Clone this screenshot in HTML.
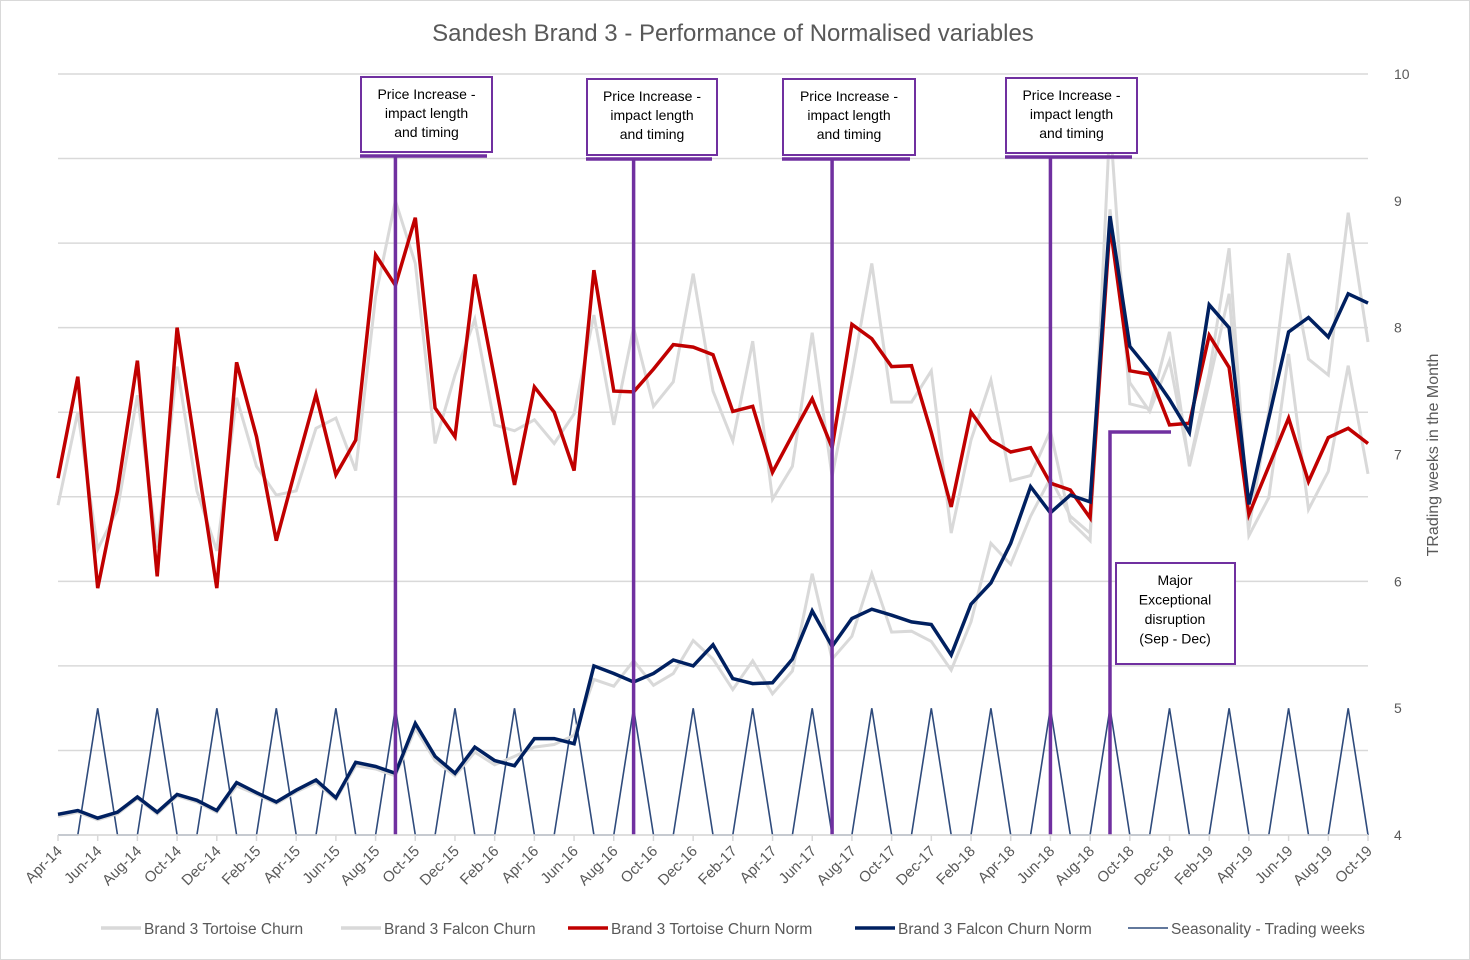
<!DOCTYPE html>
<html><head><meta charset="utf-8">
<style>
body{margin:0;background:#fff;}
svg{display:block;font-family:"Liberation Sans",sans-serif;}
</style></head>
<body>
<svg id="chart" width="1470" height="960" viewBox="0 0 1470 960">
<rect x="0.5" y="0.5" width="1469" height="959" fill="#fff" stroke="#d9d9d9"/>
<text x="733" y="41" text-anchor="middle" font-size="24" fill="#595959">Sandesh Brand 3 - Performance of Normalised variables</text>
<g id="grid"></g>
<g id="series"></g>
<g id="annot"></g>
<g id="axes"></g>
<text transform="translate(1438,455) rotate(-90)" text-anchor="middle" font-size="16" fill="#595959">TRading weeks in the Month</text>
<g id="legend"></g>
</svg>
<script>
const months=["Apr-14","May-14","Jun-14","Jul-14","Aug-14","Sep-14","Oct-14","Nov-14","Dec-14","Jan-15","Feb-15","Mar-15","Apr-15","May-15","Jun-15","Jul-15","Aug-15","Sep-15","Oct-15","Nov-15","Dec-15","Jan-16","Feb-16","Mar-16","Apr-16","May-16","Jun-16","Jul-16","Aug-16","Sep-16","Oct-16","Nov-16","Dec-16","Jan-17","Feb-17","Mar-17","Apr-17","May-17","Jun-17","Jul-17","Aug-17","Sep-17","Oct-17","Nov-17","Dec-17","Jan-18","Feb-18","Mar-18","Apr-18","May-18","Jun-18","Jul-18","Aug-18","Sep-18","Oct-18","Nov-18","Dec-18","Jan-19","Feb-19","Mar-19","Apr-19","May-19","Jun-19","Jul-19","Aug-19","Sep-19","Oct-19"];
const tortoiseChurn=[3.90,5.0,3.38,3.85,5.2,3.4,5.54,4.07,3.36,5.17,4.36,4.02,4.07,4.81,4.93,4.31,6.37,7.5,6.76,4.63,5.44,6.1,4.85,4.78,4.91,4.63,4.98,6.15,4.85,6.0,5.07,5.36,6.64,5.25,4.66,5.84,3.97,4.36,5.94,4.24,5.44,6.76,5.12,5.12,5.49,3.57,4.67,5.38,4.19,4.25,4.78,3.71,3.48,8.45,5.10,5.04,5.95,4.36,5.35,6.40,3.54,3.99,5.69,3.85,4.30,5.55,4.27];
const falconChurn=[0.22,0.27,0.18,0.25,0.43,0.25,0.46,0.39,0.27,0.58,0.48,0.37,0.51,0.62,0.42,0.82,0.78,0.70,1.26,0.88,0.70,0.98,0.83,0.93,1.04,1.07,1.18,1.84,1.76,2.06,1.77,1.91,2.30,2.08,1.72,2.06,1.67,1.94,3.09,2.08,2.35,3.09,2.40,2.41,2.29,1.95,2.52,3.45,3.20,3.77,4.22,3.77,3.57,7.4,5.35,5.01,5.61,4.39,5.46,6.94,3.62,5.01,6.88,5.63,5.44,7.36,5.83];
const tortoiseNorm=[4.22,5.42,2.92,4.07,5.61,3.06,6.0,4.46,2.92,5.59,4.71,3.48,4.36,5.21,4.26,4.67,6.86,6.5,7.30,5.05,4.71,6.63,5.39,4.14,5.30,5.0,4.31,6.68,5.25,5.24,5.51,5.8,5.77,5.68,5.01,5.07,4.29,4.73,5.16,4.58,6.04,5.87,5.54,5.55,4.76,3.88,5.0,4.67,4.53,4.58,4.16,4.08,3.75,7.22,5.49,5.45,4.85,4.87,5.91,5.53,3.79,4.36,4.93,4.18,4.70,4.81,4.63];
const falconNorm=[0.245,0.29,0.2,0.27,0.45,0.27,0.48,0.41,0.29,0.62,0.5,0.39,0.53,0.65,0.44,0.86,0.81,0.73,1.32,0.93,0.73,1.04,0.88,0.82,1.14,1.14,1.08,2.0,1.91,1.81,1.91,2.07,2.0,2.25,1.85,1.79,1.80,2.08,2.65,2.23,2.56,2.67,2.6,2.52,2.49,2.13,2.73,2.98,3.45,4.12,3.81,4.02,3.94,7.32,5.78,5.49,5.15,4.76,6.27,6.0,3.91,4.93,5.95,6.12,5.89,6.40,6.29];
const seasonality=[4,4,5,4,4,5,4,4,5,4,4,5,4,4,5,4,4,5,4,4,5,4,4,5,4,4,5,4,4,5,4,4,5,4,4,5,4,4,5,4,4,5,4,4,5,4,4,5,4,4,5,4,4,5,4,4,5,4,4,5,4,4,5,4,4,5,4];
const rightTicks=[4,5,6,7,8,9,10];
const annotMonths=["Sep-15","Sep-16","Jul-17","Jun-18"];

const NS="http://www.w3.org/2000/svg";
const X0=58,X1=1368,YB=835,YT=74;
const xs=i=>X0+i*(X1-X0)/(months.length-1);
const yL=v=>YB-v*(YB-YT)/9;
const yR=v=>YB-(v-4)*(YB-YT)/6;
function mk(tag,attrs,parent){const e=document.createElementNS(NS,tag);for(const k in attrs)e.setAttribute(k,attrs[k]);parent.appendChild(e);return e;}
const grid=document.getElementById('grid'),ser=document.getElementById('series'),ax=document.getElementById('axes'),an=document.getElementById('annot'),lg=document.getElementById('legend');
for(let g=0;g<=9;g++){const l=mk('line',{x1:X0,x2:X1,y1:yL(g),y2:yL(g),stroke:'#d9d9d9','stroke-width':1.5},grid);

}
function line(arr,sc,color,w,name){const pts=arr.map((v,i)=>xs(i).toFixed(1)+','+sc(v).toFixed(1)).join(' ');
const p=mk('polyline',{points:pts,fill:'none',stroke:color,'stroke-width':w,'stroke-linejoin':'miter'},ser);

}
line(seasonality,yR,'#2f4b7c',1.6,'seasonality-line');
line(tortoiseChurn,yL,'#d9d9d9',3,'tortoise-churn-line');
line(falconChurn,yL,'#d9d9d9',3,'falcon-churn-line');
line(tortoiseNorm,yL,'#c00000',3.5,'tortoise-churn-norm-line');
line(falconNorm,yL,'#002060',3.5,'falcon-churn-norm-line');
const xl=mk('line',{x1:X0,x2:X1,y1:YB,y2:YB,stroke:'#d9d9d9','stroke-width':1.5},ax);


months.forEach((m,i)=>{if(i%2)return;const x=xs(i);
const t=mk('line',{x1:x,x2:x,y1:YB,y2:YB+6,stroke:'#d9d9d9','stroke-width':1.5},ax);


const tx=mk('text',{transform:`translate(${x+5},${YB+17}) rotate(-45)`,'text-anchor':'end','font-size':15,fill:'#595959'},ax);
tx.textContent=m;

});
rightTicks.forEach(v=>{const t=mk('text',{x:1394,y:yR(v)+5,'font-size':14,fill:'#595959'},ax);t.textContent=v;

});
const P='#7030a0';
const boxes=[[361,77,131,75],[587,79,130,76],[783,79,132,76],[1006,78,131,75]];
annotMonths.forEach((m,k)=>{const x=xs(months.indexOf(m));const b=boxes[k];
const v=mk('line',{x1:x,x2:x,y1:b[1]+b[3]+4,y2:YB,stroke:P,'stroke-width':3.5},an);


const u=mk('line',{x1:b[0]-1,x2:b[0]+b[2]-5,y1:b[1]+b[3]+4,y2:b[1]+b[3]+4,stroke:P,'stroke-width':3.5},an);


const r=mk('rect',{x:b[0],y:b[1],width:b[2],height:b[3],fill:'#fff',stroke:P,'stroke-width':2},an);


['Price Increase -','impact length','and timing'].forEach((s,j)=>{const t=mk('text',{x:b[0]+b[2]/2,y:b[1]+22+j*19,'text-anchor':'middle','font-size':14,fill:'#000'},an);t.textContent=s;

});});
const el=mk('polyline',{points:'1110,835 1110,432 1171,432',fill:'none',stroke:P,'stroke-width':3.5},an);


const mr=mk('rect',{x:1116,y:563,width:119,height:101,fill:'#fff',stroke:P,'stroke-width':2},an);


['Major','Exceptional','disruption','(Sep - Dec)'].forEach((s,j)=>{const t=mk('text',{x:1175,y:585+j*19.5,'text-anchor':'middle','font-size':14,fill:'#000'},an);t.textContent=s;

});
const legendNames=["Brand 3 Tortoise Churn","Brand 3 Falcon Churn","Brand 3 Tortoise Churn Norm","Brand 3 Falcon Churn Norm","Seasonality - Trading weeks"];
const legendColors=['#d9d9d9','#d9d9d9','#c00000','#002060','#2f4b7c'];
const legendW=[3.5,3.5,3.5,3.5,1.6];
const legendX=[101,341,568,855,1128];
legendNames.forEach((n,k)=>{const x=legendX[k];
const g=mk('g',{},lg);


mk('line',{x1:x,x2:x+40,y1:928,y2:928,stroke:legendColors[k],'stroke-width':legendW[k]},g);
const t=mk('text',{x:x+43,y:934,'font-size':15.5,fill:'#595959'},g);t.textContent=n;});
</script>
</body></html>
